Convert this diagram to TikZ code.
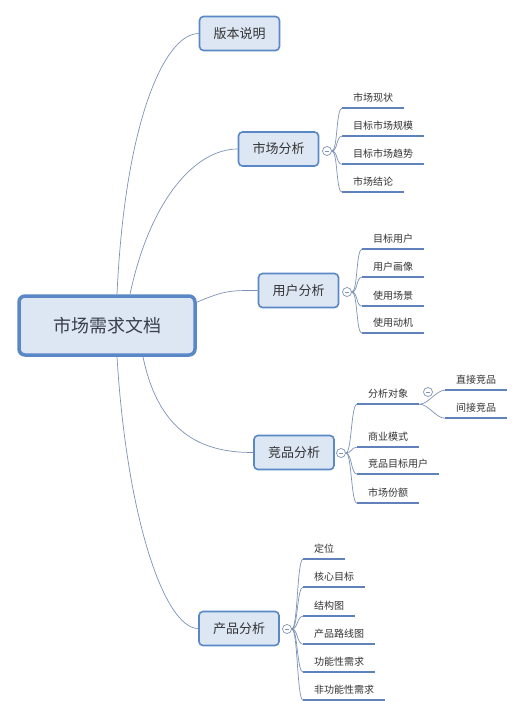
\documentclass[tikz,border=0pt]{standalone}
\usepackage{fontspec}
\setmainfont{Noto Sans CJK SC}
\usetikzlibrary{calc}
\definecolor{boxfill}{HTML}{DDE7F4}
\definecolor{boxline}{HTML}{5A87C6}
\definecolor{conn}{HTML}{7E92B6}
\definecolor{uline}{HTML}{5F82BA}
\definecolor{txt}{HTML}{333333}
\tikzset{
  rootbox/.style={draw=boxline, fill=boxfill, line width=3.5pt, rounded corners=6pt,
    minimum width=176pt, minimum height=59pt, font=\fontsize{18}{20}\selectfont, text=txt!85!boxline},
  topic/.style={draw=boxline, fill=boxfill, line width=1.6pt, rounded corners=4pt,
    minimum width=80pt, minimum height=34pt, font=\fontsize{13}{15}\selectfont, text=txt},
  leaf/.style={anchor=west, inner xsep=11pt, inner ysep=0pt, minimum height=22pt,
    text height=8pt, text depth=0pt, font=\fontsize{10}{12}\selectfont, text=txt},
  ul/.style={draw=uline, line width=2.4pt},
  conn/.style={draw=conn, line width=0.7pt},
  toggle/.style={circle, draw=conn, fill=white, line width=0.7pt, minimum size=9pt, inner sep=0pt},
  br/.style={conn, out=0, in=180, distance=6pt}
}
\begin{document}
\begin{tikzpicture}[x=1pt,y=-1pt]
\useasboundingbox[fill=white] (0,0) rectangle (525,716);

% root
\node[rootbox] (root) at (107,325.5) {市场需求文档};

% topics
\node[topic] (ver) at (239.5,33.5) {版本说明};
\node[topic] (mkt) at (278.5,149) {市场分析};
\node[topic] (usr) at (298.5,290.5) {用户分析};
\node[topic] (cmp) at (294,452.5) {竞品分析};
\node[topic] (prd) at (239,628.5) {产品分析};

% anchor points on root
\coordinate (r1) at ($(root.north)+(10,0)$);
\coordinate (r2) at ($(root.north)+(23,0)$);
\coordinate (r3) at ($(root.north east)+(0,8)$);
\coordinate (r4) at ($(root.south)+(36,0)$);
\coordinate (r5) at ($(root.south)+(10,0)$);

% main connectors
\draw[conn] (r1) .. controls (125,120) and (165,33.5) .. (ver.west);
\draw[conn] (r2) .. controls (150,200) and (195,149) .. (mkt.west);
\draw[conn] (r3) .. controls (225,290) and (232,290.5) .. (usr.west);
\draw[conn] (r4) .. controls (160,440) and (210,452.5) .. (cmp.west);
\draw[conn] (r5) .. controls (127,520) and (165,628.5) .. (prd.west);

% toggles
\node[toggle] (t1) at (327,151) {};
\node[toggle] (t2) at (347,292) {};
\node[toggle] (t3) at (341,453) {};
\node[toggle] (t4) at (428,392) {};
\node[toggle] (t5) at (287,629) {};
\foreach \t in {t1,t2,t3,t4,t5}{
  \draw[conn, line width=0.6pt] ($(\t.center)+(-2.2,0)$) -- ($(\t.center)+(2.2,0)$);
}

% market leaves
\node[leaf] (m1) at (342,97) {市场现状};
\node[leaf] (m2) at (342,125) {目标市场规模};
\node[leaf] (m3) at (342,153) {目标市场趋势};
\node[leaf] (m4) at (342,181) {市场结论};
% user leaves
\node[leaf] (u1) at (362,238) {目标用户};
\node[leaf] (u2) at (362,266) {用户画像};
\node[leaf] (u3) at (362,295) {使用场景};
\node[leaf] (u4) at (362,322) {使用动机};
% competitor leaves
\node[leaf] (c1) at (357,393) {分析对象};
\node[leaf] (c2) at (357,436) {商业模式};
\node[leaf] (c3) at (357,463) {竞品目标用户};
\node[leaf] (c4) at (357,492) {市场份额};
\node[leaf] (d1) at (445,379) {直接竞品};
\node[leaf] (d2) at (445,407) {间接竞品};
% product leaves
\node[leaf] (p1) at (303,548) {定位};
\node[leaf] (p2) at (303,576) {核心目标};
\node[leaf] (p3) at (303,605) {结构图};
\node[leaf] (p4) at (303,633) {产品路线图};
\node[leaf] (p5) at (303,661) {功能性需求};
\node[leaf] (p6) at (303,689) {非功能性需求};

% branch curves
\foreach \l in {m1,m2,m3,m4}{ \draw[br] (t1.east) to (\l.south west); }
\foreach \l in {u1,u2,u3,u4}{ \draw[br] (t2.east) to (\l.south west); }
\foreach \l in {c1,c2,c3,c4}{ \draw[br] (t3.east) to (\l.south west); }
\foreach \l in {p1,p2,p3,p4,p5,p6}{ \draw[br] (t5.east) to (\l.south west); }
\foreach \l in {d1,d2}{ \draw[br, distance=9pt] (c1.south east) to (\l.south west); }

% underlines
\foreach \l in {m1,m2,m3,m4,u1,u2,u3,u4,c1,c2,c3,c4,d1,d2,p1,p2,p3,p4,p5,p6}{
  \draw[ul] (\l.south west) -- (\l.south east);
}
\end{tikzpicture}
\end{document}
